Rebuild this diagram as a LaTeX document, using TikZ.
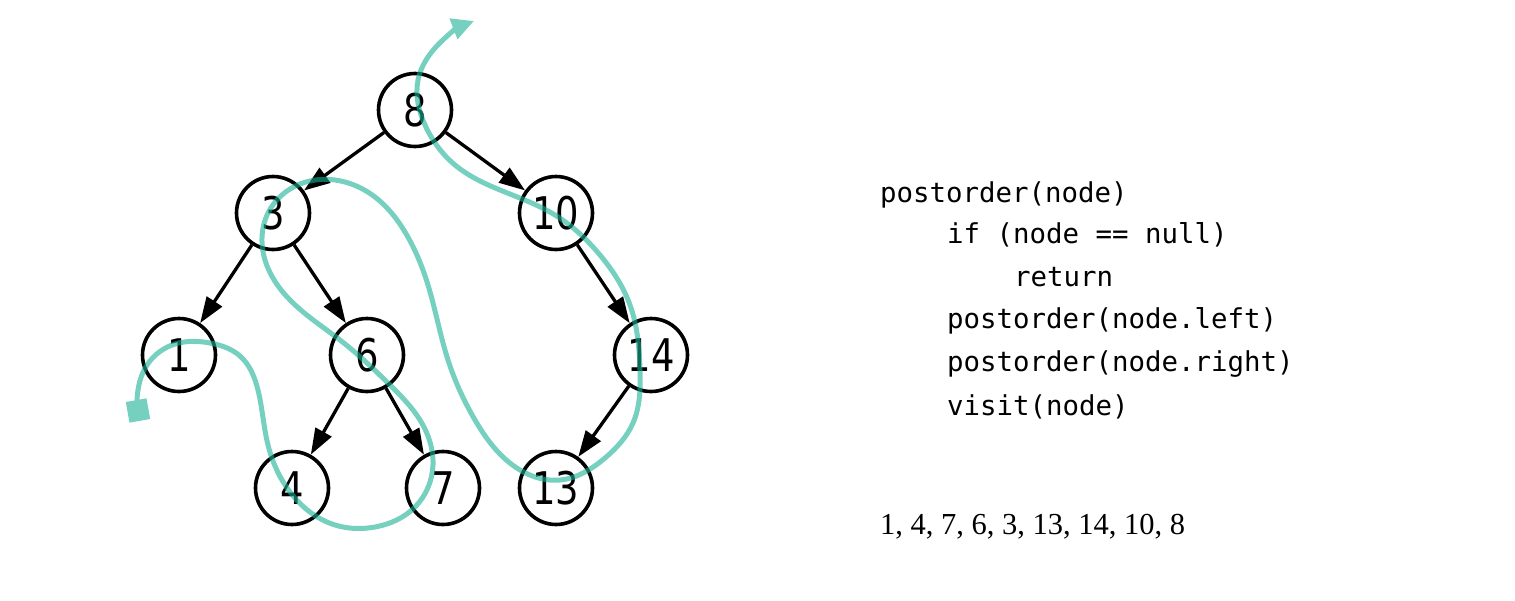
\documentclass[tikz,border=0pt]{standalone}
\usepackage{fontspec}
\setmainfont{DejaVu Sans}
\newfontfamily\nodefont[FakeStretch=0.82]{DejaVu Sans}
\newfontfamily\codefont{DejaVu Sans Mono}
\newfontfamily\seqfont{Liberation Serif}
\usetikzlibrary{arrows.meta,hobby}
\definecolor{trail}{RGB}{27,177,150}
\begin{document}
\begin{tikzpicture}[x=1pt,y=-1pt,
  tnode/.style={circle, draw, line width=3.6pt, minimum size=73pt, inner sep=0pt,
    font=\nodefont\fontsize{45}{45}\selectfont},
  edge/.style={line width=3.3pt, -{Triangle[length=26pt,width=18pt]}},
  trailline/.style={draw=trail, line width=5pt,
    -{Triangle[length=22pt,width=21pt]}},
  code/.style={anchor=base west, inner sep=0pt, font=\codefont\fontsize{27.4}{30}\selectfont}]
\useasboundingbox (0,0) rectangle (1515,600);

\node[tnode] (n8)  at (415,110) {8};
\node[tnode] (n3)  at (273,213) {3};
\node[tnode] (n10) at (556,213) {10};
\node[tnode] (n1)  at (179,355) {1};
\node[tnode] (n6)  at (367,355) {6};
\node[tnode] (n14) at (651,355) {14};
\node[tnode] (n4)  at (292,488) {4};
\node[tnode] (n7)  at (443,488) {7};
\node[tnode] (n13) at (556,488) {13};

\draw[edge] (n8) -- (n3);
\draw[edge] (n8) -- (n10);
\draw[edge] (n3) -- (n1);
\draw[edge] (n3) -- (n6);
\draw[edge] (n6) -- (n4);
\draw[edge] (n6) -- (n7);
\draw[edge] (n10) -- (n14);
\draw[edge] (n14) -- (n13);

\begin{scope}[transparency group, opacity=0.6]
\node[fill=trail, rotate=10, minimum size=21pt, inner sep=0pt] (start) at (138,410.5) {};
\coordinate (tip) at (474,21);
\draw[trailline, use Hobby shortcut] ([out angle=88]137,401) .. (147,365) .. (175,344) .. (210,343) .. (240,356)
 .. (258,390) .. (268,445) .. (290,492) .. (335,525) .. (375,527) .. (415,507)
 .. (433,465) .. (420,420) .. (390,385) .. (340,340) .. (292,302) .. (265,260)
 .. (268,213) .. (300,184) .. (335,180) .. (375,197) .. (405,232) .. (428,285)
 .. (448,360) .. (475,420) .. (520,470) .. (560,480) .. (605,458) .. (633,423)
 .. (640,370) .. (630,305) .. (600,255) .. (555,215) .. (500,190) .. (455,165)
 .. (425,125) .. (418,80) .. (435,48) .. (tip);
\end{scope}

\node[code] (c1) at (880,202) {postorder(node)};
\node[code] (c2) at (947,243.5) {if (node == null)};
\node[code] (c3) at (1014,286.5) {return};
\node[code] (c4) at (947,328.5) {postorder(node.left)};
\node[code] (c5) at (947,371.5) {postorder(node.right)};
\node[code] (c6) at (947,415) {visit(node)};
\node[anchor=base west, inner sep=0pt, font=\seqfont\fontsize{30.5}{31}\selectfont] (seq) at (880,534) {1, 4, 7, 6, 3, 13, 14, 10, 8};
\end{tikzpicture}
\end{document}
